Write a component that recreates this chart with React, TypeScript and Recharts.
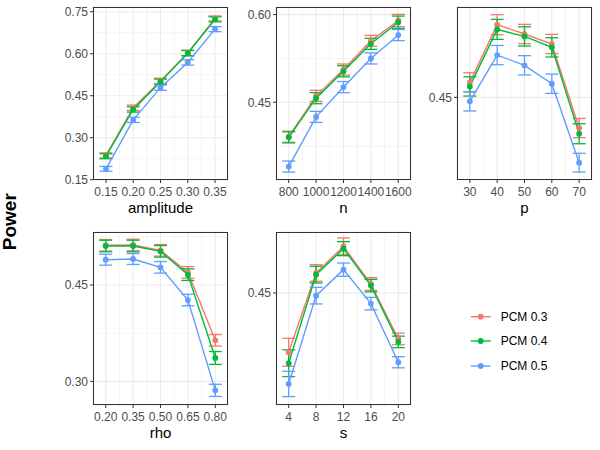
import React from "react";
import { LineChart, Line, XAxis, YAxis, CartesianGrid, ErrorBar } from "recharts";

const seriesNames = ["PCM 0.3", "PCM 0.4", "PCM 0.5"];
const seriesColors = ["#F8766D", "#00BA38", "#619CFF"];

// amplitude
const amplitudeX = [0.15, 0.2, 0.25, 0.3, 0.35];
const amplitudePcm03 = [0.237, 0.407, 0.503, 0.603, 0.726];
const amplitudePcm04 = [0.234, 0.401, 0.5, 0.602, 0.723];
const amplitudePcm05 = [0.189, 0.364, 0.479, 0.569, 0.688];
const amplitudeErr03 = [0.009, 0.0095, 0.0095, 0.0095, 0.009];
const amplitudeErr04 = [0.009, 0.0095, 0.0095, 0.0095, 0.009];
const amplitudeErr05 = [0.0085, 0.0095, 0.0095, 0.0095, 0.009];

// n
const nX = [800, 1000, 1200, 1400, 1600];
const nPcm03 = [0.391, 0.461, 0.506, 0.555, 0.59];
const nPcm04 = [0.39, 0.457, 0.503, 0.55, 0.587];
const nPcm05 = [0.34, 0.425, 0.476, 0.525, 0.565];
const nErr03 = [0.0095, 0.0095, 0.0095, 0.0095, 0.0105];
const nErr04 = [0.0095, 0.0095, 0.0095, 0.0095, 0.0105];
const nErr05 = [0.0095, 0.0095, 0.0095, 0.0095, 0.0095];

// p
const pX = [30, 40, 50, 60, 70];
const pPcm03 = [0.4624, 0.5103, 0.5026, 0.4943, 0.4245];
const pPcm04 = [0.4591, 0.5064, 0.5006, 0.4915, 0.4198];
const pPcm05 = [0.4467, 0.4851, 0.4766, 0.4613, 0.3958];
const pErr03 = [0.008, 0.0083, 0.008, 0.008, 0.008];
const pErr04 = [0.008, 0.0083, 0.008, 0.008, 0.0083];
const pErr05 = [0.008, 0.008, 0.008, 0.008, 0.0078];

// rho
const rhoX = [0.2, 0.35, 0.5, 0.65, 0.8];
const rhoPcm03 = [0.5118, 0.5123, 0.504, 0.4697, 0.3639];
const rhoPcm04 = [0.5107, 0.5107, 0.5024, 0.4661, 0.3364];
const rhoPcm05 = [0.4894, 0.4905, 0.4775, 0.4266, 0.286];
const rhoErr03 = [0.009, 0.009, 0.009, 0.009, 0.009];
const rhoErr04 = [0.009, 0.009, 0.009, 0.009, 0.01];
const rhoErr05 = [0.0085, 0.0085, 0.009, 0.009, 0.0095];

// s
const sX = [4, 8, 12, 16, 20];
const sPcm03 = [0.3838, 0.4723, 0.502, 0.46, 0.3987];
const sPcm04 = [0.3716, 0.4704, 0.4994, 0.4582, 0.3954];
const sPcm05 = [0.3485, 0.447, 0.476, 0.4381, 0.3727];
const sErr03 = [0.0156, 0.0093, 0.0093, 0.0072, 0.0065];
const sErr04 = [0.0149, 0.0093, 0.0078, 0.007, 0.0064];
const sErr05 = [0.0141, 0.0093, 0.0074, 0.007, 0.0062];

const yBreaks = [0.15, 0.3, 0.45, 0.6, 0.75];

function makeRows(x: number[], vals: number[][], errs: number[][]) {
  return x.map((xv, i) => ({
    x: xv,
    v0: vals[0][i],
    v1: vals[1][i],
    v2: vals[2][i],
    e0: errs[0][i],
    e1: errs[1][i],
    e2: errs[2][i],
  }));
}

const FONT = "'Liberation Sans', Arial, Helvetica, sans-serif";
const PW = 135;
const PH = 173;

const panels = [
  {
    title: "amplitude",
    left: 93.3,
    top: 7.3,
    rows: makeRows(amplitudeX, [amplitudePcm03, amplitudePcm04, amplitudePcm05], [amplitudeErr03, amplitudeErr04, amplitudeErr05]),
    xTicks: amplitudeX,
    xMinor: [0.175, 0.225, 0.275, 0.325],
    xDomain: [0.1262, 0.3738],
    xFmt: (v: number) => v.toFixed(2),
    yDomain: [0.149, 0.767],
    yMinor: [0.225, 0.375, 0.525, 0.675],
  },
  {
    title: "n",
    left: 275.7,
    top: 7.3,
    rows: makeRows(nX, [nPcm03, nPcm04, nPcm05], [nErr03, nErr04, nErr05]),
    xTicks: nX,
    xMinor: [900, 1100, 1300, 1500],
    xDomain: [707, 1693],
    xFmt: (v: number) => String(v),
    yDomain: [0.317, 0.613],
    yMinor: [0.375, 0.525],
  },
  {
    title: "p",
    left: 456.7,
    top: 7.3,
    rows: makeRows(pX, [pPcm03, pPcm04, pPcm05], [pErr03, pErr04, pErr05]),
    xTicks: pX,
    xMinor: [35, 45, 55, 65],
    xDomain: [25.3, 74.7],
    xFmt: (v: number) => String(v),
    yDomain: [0.3814, 0.525],
    yMinor: [] as number[],
  },
  {
    title: "rho",
    left: 93.3,
    top: 232.3,
    rows: makeRows(rhoX, [rhoPcm03, rhoPcm04, rhoPcm05], [rhoErr03, rhoErr04, rhoErr05]),
    xTicks: rhoX,
    xMinor: [0.275, 0.425, 0.575, 0.725],
    xDomain: [0.1305, 0.8695],
    xFmt: (v: number) => v.toFixed(2),
    yDomain: [0.2632, 0.5325],
    yMinor: [0.375, 0.525],
  },
  {
    title: "s",
    left: 275.7,
    top: 232.3,
    rows: makeRows(sX, [sPcm03, sPcm04, sPcm05], [sErr03, sErr04, sErr05]),
    xTicks: sX,
    xMinor: [6, 10, 14, 18],
    xDomain: [2.15, 21.85],
    xFmt: (v: number) => String(v),
    yDomain: [0.325, 0.518],
    yMinor: [] as number[],
  },
];

const YW = 50;
const XH = 40;
const MT = 4;
const MR = 12;

function Panel({ cfg }: { cfg: (typeof panels)[number] }) {
  const yTicks = yBreaks.filter((b) => b >= cfg.yDomain[0] && b <= cfg.yDomain[1]);
  return (
    <div style={{ position: "absolute", left: cfg.left - YW, top: cfg.top - MT }}>
      <LineChart
        width={YW + PW + MR}
        height={MT + PH + XH}
        data={cfg.rows}
        margin={{ top: MT, right: MR, left: 0, bottom: 0 }}
      >
        <CartesianGrid
          stroke="#EBEBEB"
          strokeWidth={0.55}
          horizontalValues={cfg.yMinor.length ? cfg.yMinor : yTicks}
          verticalValues={cfg.xMinor}
        />
        <CartesianGrid stroke="#EBEBEB" strokeWidth={1.1} />
        <XAxis
          dataKey="x"
          type="number"
          domain={cfg.xDomain}
          ticks={cfg.xTicks}
          interval={0}
          allowDataOverflow
          tickFormatter={cfg.xFmt}
          tick={{ fill: "#4D4D4D", fontSize: 12, fontFamily: FONT }}
          tickSize={3}
          tickMargin={4}
          axisLine={false}
          tickLine={{ stroke: "#333333" }}
          height={XH}
          label={{ value: cfg.title, position: "insideBottom", offset: 7, fill: "#000000", fontSize: 15, fontFamily: FONT }}
        />
        <YAxis
          type="number"
          domain={cfg.yDomain}
          ticks={yTicks}
          interval={0}
          allowDataOverflow
          tickFormatter={(v: number) => v.toFixed(2)}
          tick={{ fill: "#4D4D4D", fontSize: 12, fontFamily: FONT }}
          tickSize={3}
          tickMargin={2}
          axisLine={false}
          tickLine={{ stroke: "#333333" }}
          width={YW}
        />
        {seriesColors.map((c, k) => (
          <Line
            key={k}
            dataKey={"v" + k}
            name={seriesNames[k]}
            type="linear"
            stroke={c}
            strokeWidth={1.4}
            dot={{ r: 2.9, fill: c, stroke: c, strokeWidth: 0 }}
            activeDot={false}
            isAnimationActive={false}
          >
            <ErrorBar dataKey={"e" + k} direction="y" width={6.5} stroke={c} strokeWidth={1.3} isAnimationActive={false} />
          </Line>
        ))}
      </LineChart>
      <div
        style={{
          position: "absolute",
          left: YW,
          top: MT,
          width: PW,
          height: PH,
          border: "1px solid #333333",
          boxSizing: "border-box",
          pointerEvents: "none",
        }}
      />
    </div>
  );
}

function LegendBox() {
  const rowsY = [316.7, 341, 366];
  return (
    <svg style={{ position: "absolute", left: 0, top: 0 }} width={600} height={450}>
      <text
        x={16.5}
        y={221.7}
        transform="rotate(-90, 16.5, 221.7)"
        textAnchor="middle"
        fontSize={19}
        fontWeight="bold"
        fontFamily={FONT}
        fill="#000"
      >
        Power
      </text>
      {seriesNames.map((name, k) => (
        <g key={name}>
          <line x1={470.7} x2={490.7} y1={rowsY[k]} y2={rowsY[k]} stroke={seriesColors[k]} strokeWidth={1.4} />
          <circle cx={480.7} cy={rowsY[k]} r={2.9} fill={seriesColors[k]} />
          <text x={500.7} y={rowsY[k]} dominantBaseline="central" fontSize={12} fontFamily={FONT} fill="#000">
            {name}
          </text>
        </g>
      ))}
    </svg>
  );
}

export default function App() {
  return (
    <div style={{ position: "absolute", left: 0, top: 0, width: 600, height: 450, background: "#fff", fontFamily: FONT }}>
      <LegendBox />
      {panels.map((cfg) => (
        <Panel key={cfg.title} cfg={cfg} />
      ))}
    </div>
  );
}
